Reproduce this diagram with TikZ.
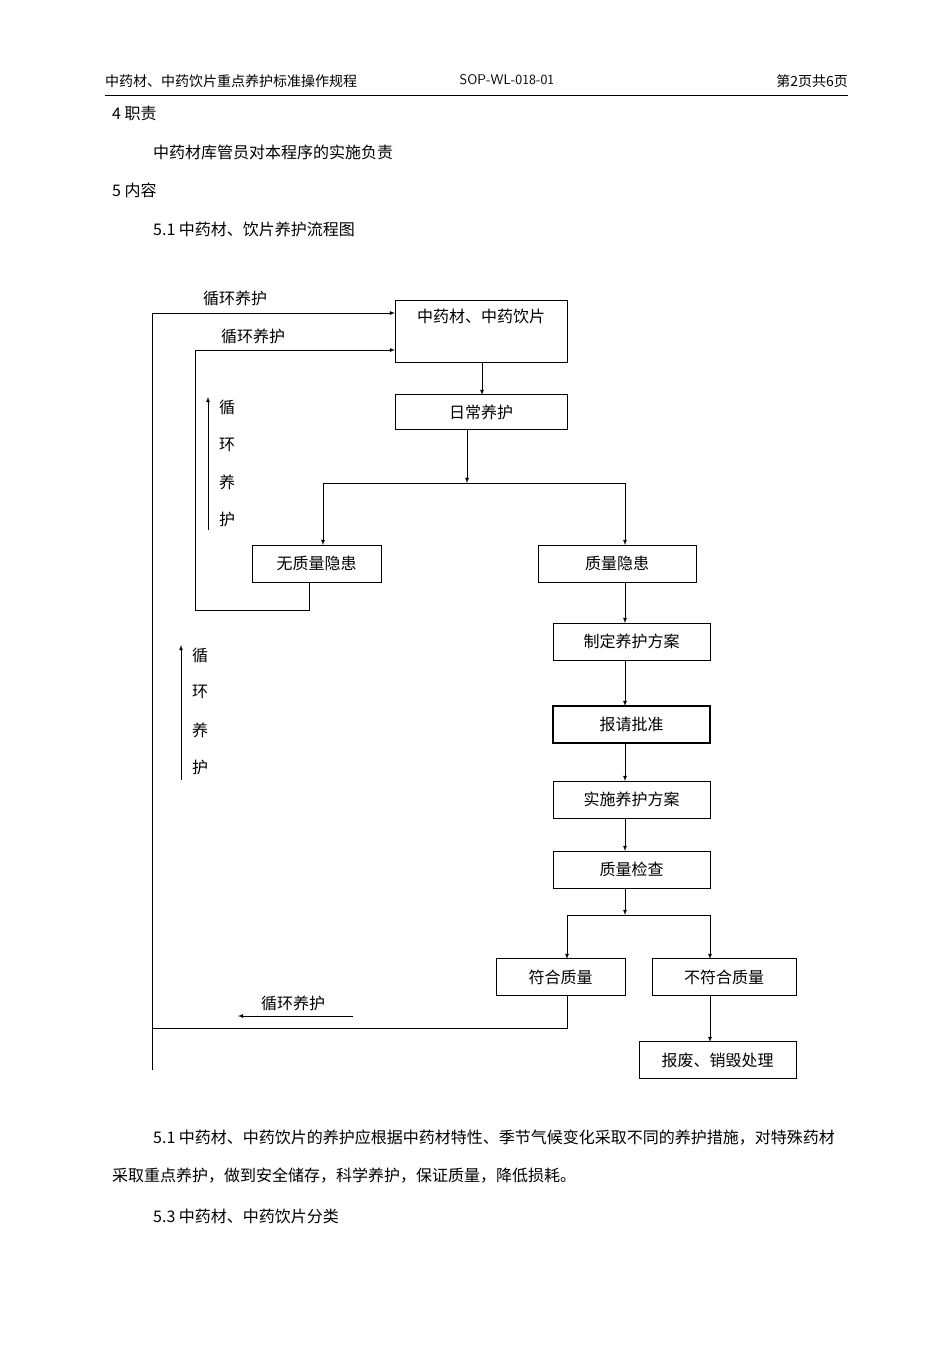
\documentclass[tikz,border=0pt]{standalone}
\usepackage{fontspec}
\newfontfamily\cjk{Noto Sans CJK SC}
\begin{document}
\begin{tikzpicture}[x=1pt,y=-1pt,
 bx/.style={draw,thick,minimum height=37pt,inner sep=0pt,font=\cjk\fontsize{16}{18}\selectfont},
 tx/.style={font=\cjk\fontsize{16}{18}\selectfont,inner sep=0pt},
 ar/.style={->,thick,>=latex},
 ln/.style={thick}]
\useasboundingbox (0,0) rectangle (950,1345);
\fill[white] (0,0) rectangle (950,1345);
% header
\node[tx,anchor=west,font=\cjk\fontsize{14}{16}\selectfont] (h1) at (105,81) {中药材、中药饮片重点养护标准操作规程};
\node[tx,font=\sffamily\fontsize{14}{16}\selectfont] (h2) at (507,80) {SOP-WL-018-01};
\node[tx,anchor=east,font=\cjk\fontsize{14}{16}\selectfont] (h3) at (848,81) {第2页共6页};
\draw (105,95) -- (848,95);
\node[tx,anchor=west] (t1) at (112,113) {4 职责};
\node[tx,anchor=west] (t2) at (153,152) {中药材库管员对本程序的实施负责};
\node[tx,anchor=west] (t3) at (112,190) {5 内容};
\node[tx,anchor=west] (t4) at (153,229) {5.1 中药材、饮片养护流程图};
% boxes
\node[bx,minimum width=172pt,minimum height=62pt] (A) at (481,331) {};
\node[tx] (At) at (481,316) {中药材、中药饮片};
\node[bx,minimum width=172pt,minimum height=35pt] (B) at (481,412) {日常养护};
\node[bx,minimum width=129pt] (C) at (316.5,563.5) {无质量隐患};
\node[bx,minimum width=158pt] (D) at (617,563.5) {质量隐患};
\node[bx,minimum width=157pt] (E) at (631.5,641.5) {制定养护方案};
\node[bx,minimum width=157pt,very thick] (F) at (631.5,724.5) {报请批准};
\node[bx,minimum width=157pt] (G) at (631.5,799.5) {实施养护方案};
\node[bx,minimum width=157pt] (H) at (631.5,869.5) {质量检查};
\node[bx,minimum width=129pt] (I) at (560.5,977) {符合质量};
\node[bx,minimum width=144pt] (J) at (724,977) {不符合质量};
\node[bx,minimum width=157pt] (K) at (717.5,1060) {报废、销毁处理};
% connectors
\draw[ar] (482,362) -- (482,395);
\coordinate (b1) at (467,483);
\draw[ar] (467,430) -- (b1);
\draw[ln] (323,483) -- (625,483);
\draw[ar] (323,483) -- (323,545);
\draw[ar] (625,483) -- (625,545);
\draw[ar] (625,582) -- (625,623);
\draw[ar] (625,660) -- (625,706);
\draw[ar] (625,743) -- (625,781);
\draw[ar] (625,818) -- (625,851);
\draw[ar] (625,888) -- (625,915);
\draw[ln] (567,915) -- (710,915);
\draw[ar] (567,915) -- (567,959);
\draw[ar] (710,915) -- (710,959);
\draw[ar] (710,995) -- (710,1042);
% loops
\draw[ln] (567,995) -- (567,1028) -- (152,1028);
\draw[ln] (152,1070) -- (152,313);
\draw[ar] (152,313) -- (395,313);
\draw[ln] (309,582) -- (309,610) -- (195,610) -- (195,350);
\draw[ar] (195,350) -- (395,350);
% labels
\node[tx] (l1) at (235,298) {循环养护};
\node[tx] (l2) at (253,336) {循环养护};
\node[tx] (l3) at (293,1003) {循环养护};
\draw[ar] (353,1016) -- (238,1016);
\foreach \c/\y in {循/407,环/445,养/482,护/519}{\node[tx] at (227,\y) {\c};}
\draw[ar] (208,530) -- (208,397);
\foreach \c/\y in {循/655,环/692,养/730,护/767}{\node[tx] at (200,\y) {\c};}
\draw[ar] (181,780) -- (181,645);
% text
\node[tx,anchor=west] (p1) at (153,1138) {5.1 中药材、中药饮片的养护应根据中药材特性、季节气候变化采取不同的养护措施，对特殊药材};
\node[tx,anchor=west] (p2) at (112,1176) {采取重点养护，做到安全储存，科学养护，保证质量，降低损耗。};
\node[tx,anchor=west] (p3) at (153,1216) {5.3 中药材、中药饮片分类};
\end{tikzpicture}
\end{document}
